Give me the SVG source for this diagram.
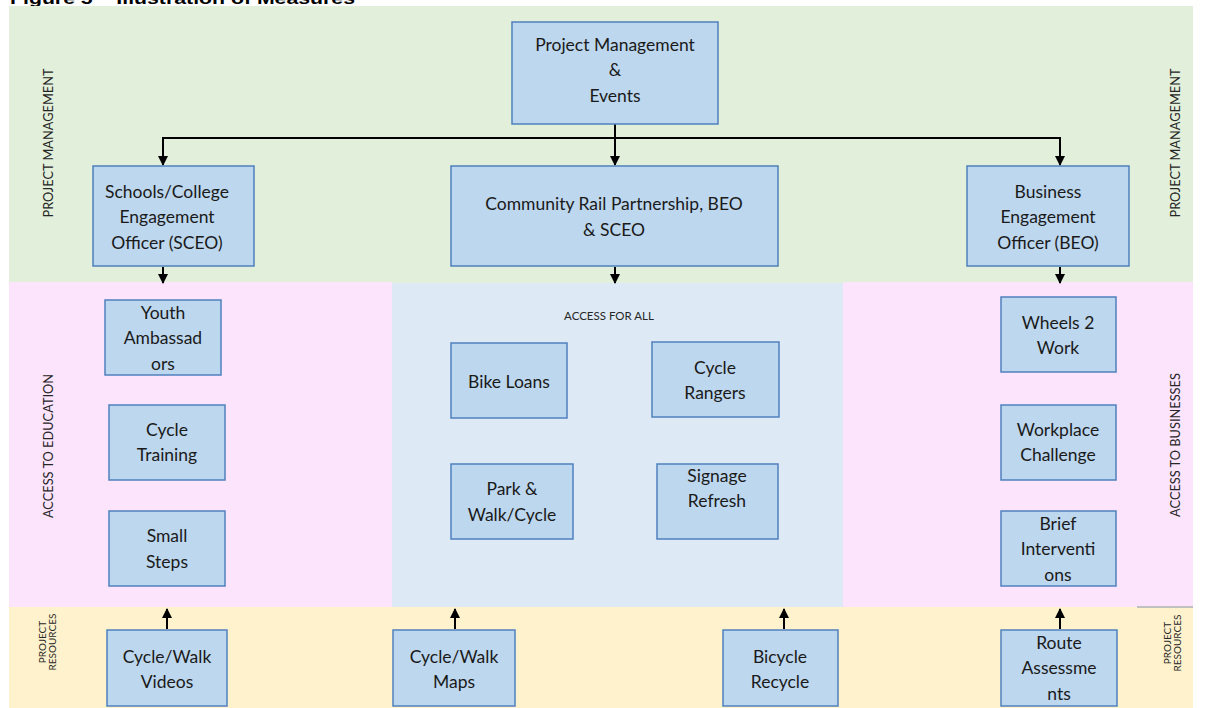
<svg xmlns="http://www.w3.org/2000/svg" width="1208" height="708" viewBox="0 0 1208 708">
<style>
.bx{fill:#bdd7ee;stroke:#4f81bd;stroke-width:1.5}
.t{font-family:Lato,"Open Sans",sans-serif;font-size:17.5px;fill:#1a1a1a;text-anchor:middle}
.side{font-family:Lato,"Open Sans",sans-serif;font-size:12.8px;fill:#262626;text-anchor:middle}
.small{font-family:Lato,"Open Sans",sans-serif;font-size:10px;fill:#262626;text-anchor:middle}
.cn{fill:none;stroke:#000;stroke-width:2}
</style>
<defs>
<marker id="ah" viewBox="0 0 10 10" refX="9" refY="5" markerWidth="5" markerHeight="5" orient="auto" markerUnits="strokeWidth">
<path d="M0,0 L10,5 L0,10 z" fill="#000"/>
</marker>
</defs>
<rect width="1208" height="708" fill="#fff"/>
<text x="10" y="4" font-family="Liberation Sans,Arial,sans-serif" font-size="16" font-weight="bold" fill="#000" textLength="345" lengthAdjust="spacingAndGlyphs">Figure 5 – Illustration of Measures</text>
<g id="bands">
<rect x="9" y="6" width="1184" height="277" fill="#e2efda"/>
<rect x="9" y="282" width="383" height="325" fill="#fde4fd"/>
<rect x="392" y="283" width="451" height="324" fill="#ddeaf6"/>
<rect x="843" y="282" width="350" height="325" fill="#fde4fd"/>
<rect x="9" y="607" width="1184" height="101" fill="#fff2cc"/>
<line x1="1137" y1="607" x2="1193" y2="607" stroke="#c0c0c0" stroke-width="2"/>
</g>
<g id="labels">
<text class="side" transform="translate(53,143) rotate(-90)">PROJECT MANAGEMENT</text>
<text class="side" transform="translate(1180,143) rotate(-90)">PROJECT MANAGEMENT</text>
<text class="side" transform="translate(53,446) rotate(-90)">ACCESS TO EDUCATION</text>
<text class="side" transform="translate(1180,445) rotate(-90)">ACCESS TO BUSINESSES</text>
<text class="small" transform="translate(46,642) rotate(-90)">PROJECT</text>
<text class="small" transform="translate(56,642) rotate(-90)">RESOURCES</text>
<text class="small" transform="translate(1171,643) rotate(-90)">PROJECT</text>
<text class="small" transform="translate(1181,643) rotate(-90)">RESOURCES</text>
<text x="609" y="320" font-family="Lato,'Open Sans',sans-serif" font-size="11.5" fill="#262626" text-anchor="middle">ACCESS FOR ALL</text>
</g>
<g id="connectors">
<path class="cn" d="M163,138 H1060"/>
<path class="cn" d="M163,137 V165" marker-end="url(#ah)"/>
<path class="cn" d="M615,124 V165" marker-end="url(#ah)"/>
<path class="cn" d="M1060,137 V165" marker-end="url(#ah)"/>
<path class="cn" d="M163,267 V283" marker-end="url(#ah)"/>
<path class="cn" d="M615,267 V283" marker-end="url(#ah)"/>
<path class="cn" d="M1060,267 V283" marker-end="url(#ah)"/>
<path class="cn" d="M167,629 V609" marker-end="url(#ah)"/>
<path class="cn" d="M455,629 V609" marker-end="url(#ah)"/>
<path class="cn" d="M784,629 V609" marker-end="url(#ah)"/>
<path class="cn" d="M1060,629 V609" marker-end="url(#ah)"/>
</g>
<g id="pm">
<rect class="bx" x="512" y="22" width="206" height="102"/>
<text class="t" x="615" y="51">Project Management</text>
<text class="t" x="615" y="76">&amp;</text>
<text class="t" x="615" y="102">Events</text>
</g>
<g id="sceo">
<rect class="bx" x="93" y="166" width="161" height="100"/>
<text class="t" x="167" y="198">Schools/College</text>
<text class="t" x="167" y="223">Engagement</text>
<text class="t" x="167" y="249">Officer (SCEO)</text>
</g>
<g id="crp">
<rect class="bx" x="451" y="166" width="327" height="100"/>
<text class="t" x="614" y="210">Community Rail Partnership, BEO</text>
<text class="t" x="614" y="236">&amp; SCEO</text>
</g>
<g id="beo">
<rect class="bx" x="967" y="166" width="162" height="100"/>
<text class="t" x="1048" y="198">Business</text>
<text class="t" x="1048" y="223">Engagement</text>
<text class="t" x="1048" y="249">Officer (BEO)</text>
</g>
<g id="youth">
<rect class="bx" x="105" y="300" width="116" height="75"/>
<text class="t" x="163" y="319">Youth</text>
<text class="t" x="163" y="344">Ambassad</text>
<text class="t" x="163" y="370">ors</text>
</g>
<g id="cycletraining">
<rect class="bx" x="109" y="405" width="116" height="75"/>
<text class="t" x="167" y="436">Cycle</text>
<text class="t" x="167" y="461">Training</text>
</g>
<g id="smallsteps">
<rect class="bx" x="109" y="511" width="116" height="75"/>
<text class="t" x="167" y="542">Small</text>
<text class="t" x="167" y="568">Steps</text>
</g>
<g id="bikeloans">
<rect class="bx" x="451" y="343" width="116" height="75"/>
<text class="t" x="509" y="388">Bike Loans</text>
</g>
<g id="cyclerangers">
<rect class="bx" x="652" y="342" width="127" height="75"/>
<text class="t" x="715" y="374">Cycle</text>
<text class="t" x="715" y="399">Rangers</text>
</g>
<g id="parkwalk">
<rect class="bx" x="451" y="464" width="122" height="75"/>
<text class="t" x="512" y="495">Park &amp;</text>
<text class="t" x="512" y="521">Walk/Cycle</text>
</g>
<g id="signage">
<rect class="bx" x="657" y="464" width="121" height="75"/>
<text class="t" x="717" y="482">Signage</text>
<text class="t" x="717" y="507">Refresh</text>
</g>
<g id="wheels">
<rect class="bx" x="1001" y="297" width="115" height="75"/>
<text class="t" x="1058" y="329">Wheels 2</text>
<text class="t" x="1058" y="354">Work</text>
</g>
<g id="workplace">
<rect class="bx" x="1001" y="405" width="115" height="75"/>
<text class="t" x="1058" y="436">Workplace</text>
<text class="t" x="1058" y="461">Challenge</text>
</g>
<g id="brief">
<rect class="bx" x="1001" y="511" width="115" height="75"/>
<text class="t" x="1058" y="530">Brief</text>
<text class="t" x="1058" y="555">Interventi</text>
<text class="t" x="1058" y="581">ons</text>
</g>
<g id="videos">
<rect class="bx" x="107" y="630" width="120" height="76"/>
<text class="t" x="167" y="663">Cycle/Walk</text>
<text class="t" x="167" y="688">Videos</text>
</g>
<g id="maps">
<rect class="bx" x="393" y="630" width="122" height="76"/>
<text class="t" x="454" y="663">Cycle/Walk</text>
<text class="t" x="454" y="688">Maps</text>
</g>
<g id="recycle">
<rect class="bx" x="723" y="630" width="115" height="76"/>
<text class="t" x="780" y="663">Bicycle</text>
<text class="t" x="780" y="688">Recycle</text>
</g>
<g id="route">
<rect class="bx" x="1001" y="630" width="116" height="76"/>
<text class="t" x="1059" y="649">Route</text>
<text class="t" x="1059" y="674">Assessme</text>
<text class="t" x="1059" y="700">nts</text>
</g>
</svg>
